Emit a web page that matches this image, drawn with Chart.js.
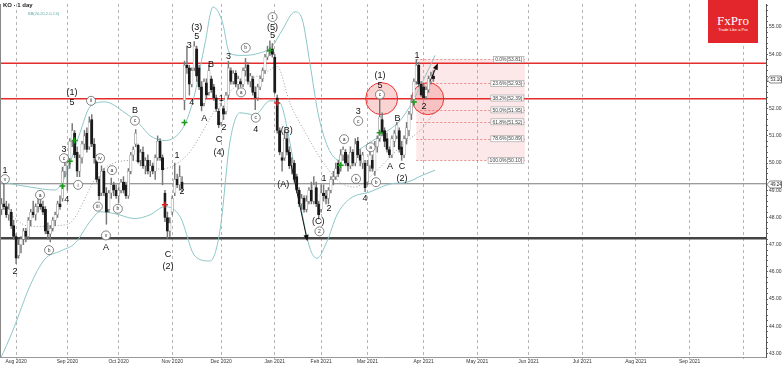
<!DOCTYPE html>
<html>
<head>
<meta charset="utf-8">
<title>KO 1 day</title>
<script src="https://cdn.jsdelivr.net/npm/chart.js@4.4.1/dist/chart.umd.min.js"></script>
<style>
  body { margin: 0; background: #fff; }
  #wrap { position: relative; width: 782px; height: 366px; overflow: hidden; }
  #title { position: absolute; left: 3px; top: 2px; font: bold 6px "Liberation Sans", Arial, sans-serif; color: #222; }
  #bb { position: absolute; left: 28px; top: 11px; font: 4px "Liberation Sans", Arial, sans-serif; color: #5aa7a7; }
  #logo { position: absolute; left: 708px; top: 0; width: 50px; height: 43px; background: #e3262b; color: #fff; text-align: center; }
  #logo .name { font: 13px "Liberation Serif", "DejaVu Serif", serif; margin-top: 14px; line-height: 13px; }
  #logo .tag { font: 4px "Liberation Sans", Arial, sans-serif; line-height: 5px; }
</style>
</head>
<body>
<div id="wrap">
  <canvas id="chart" width="782" height="366"></canvas>
  <div id="title">KO · 1 day</div>
  <div id="bb">BB(20,20,2.0,2.0)</div>
  <div id="logo"><div class="name">FxPro</div><div class="tag">Trade Like a Pro</div></div>
</div>
<script>
// daily candles, bar 0 = 24 Jul 2020 ... bar 177 = 8 Apr 2021
const open = [48.3,48.5,48.4,48.1,48.2,47.7,47.3,46.6,47.0,47.2,
  47.5,47.3,47.9,48.2,48.1,48.4,48.5,48.4,48.3,47.5,
  47.4,47.6,47.9,48.1,48.5,48.7,49.7,49.9,50.0,50.8,
  51.1,50.4,49.7,50.2,50.7,51.1,50.6,51.6,50.7,50.2,
  49.4,48.9,49.7,48.9,48.3,48.9,49.2,49.0,48.8,49.0,
  49.3,49.2,48.8,49.7,50.3,50.7,50.65,50.1,50.4,49.9,
  50.1,49.7,49.9,49.7,50.2,50.8,50.2,48.9,48.0,47.5,
  48.2,48.9,49.4,49.2,49.3,52.3,53.6,53.5,52.9,53.5,
  54.2,53.5,52.8,52.2,52.95,52.6,53.1,52.8,52.4,51.9,
  51.5,52.0,51.9,52.5,53.4,53.0,53.3,52.9,53.0,52.9,
  53.4,53.6,53.0,53.1,52.6,52.4,52.8,53.1,53.4,53.9,
  54.1,54.2,53.9,52.4,51.2,50.2,50.2,50.9,50.4,49.9,
  50.0,49.5,49.0,48.5,48.7,48.3,48.6,49.0,48.6,49.1,
  48.5,48.3,48.9,48.8,48.7,49.0,49.4,49.5,50.0,49.8,
  50.3,50.4,50.0,49.9,50.4,50.0,50.8,50.3,50.0,50.0,
  49.3,49.9,50.1,49.7,50.6,50.9,51.6,51.2,50.9,50.5,
  50.3,50.8,51.0,51.2,50.6,50.3,50.9,51.2,51.8,52.2,
  53.0,53.6,52.9,52.8,52.45,52.7,53.0,53.2];
const high = [48.7,49.3,48.6,48.5,48.3,47.9,47.4,47.2,47.3,47.6,
  47.6,48.0,48.3,48.6,48.5,48.8,48.9,48.6,48.4,47.8,
  47.7,48.0,48.2,48.6,48.8,49.85,50.15,50.1,50.9,51.45,
  51.2,50.6,50.3,50.8,51.2,51.3,51.7,51.78,50.9,50.3,
  49.5,49.9,49.8,49.1,49.0,49.45,49.3,49.2,49.1,49.4,
  49.5,49.3,49.8,50.4,50.6,51.23,50.7,50.5,50.6,50.2,
  50.3,50.1,50.0,50.3,51.0,50.9,50.3,49.0,48.2,48.0,
  48.8,50.0,49.6,49.9,49.5,53.75,54.3,53.6,53.5,54.47,
  54.3,53.6,53.0,53.1,53.1,53.6,53.2,52.9,52.5,52.0,
  52.2,52.1,52.6,53.75,53.5,53.4,53.4,53.2,53.1,53.5,
  53.85,53.7,53.3,53.2,52.8,52.9,53.2,53.5,54.0,54.3,
  54.5,54.4,54.0,52.5,51.3,50.4,51.2,51.1,50.6,50.2,
  50.1,49.6,49.1,48.85,48.8,48.8,49.1,49.3,49.5,49.3,
  48.6,49.2,49.2,49.0,49.1,49.5,49.7,50.0,50.1,50.5,
  50.6,50.5,50.3,50.6,50.5,50.9,50.95,50.5,50.4,50.1,
  50.1,50.6,50.3,50.8,51.0,52.47,51.85,51.3,51.1,50.6,
  51.0,51.2,51.5,51.3,50.8,51.0,51.5,51.9,52.5,53.1,
  53.81,53.7,53.0,52.9,52.8,53.2,53.35,53.4];
const low = [48.1,48.3,48.0,47.9,47.6,47.2,46.3,46.5,46.7,47.0,
  47.1,47.2,47.7,48.0,47.9,48.2,48.3,48.1,47.4,47.2,
  47.1,47.5,47.7,48.0,48.3,48.6,49.5,49.0,49.8,50.6,
  50.2,49.5,49.5,50.0,50.5,50.4,50.5,50.6,50.0,49.3,
  48.65,48.8,48.8,47.75,48.2,48.7,48.8,48.7,48.55,48.9,
  48.9,48.7,48.7,49.6,50.1,50.6,50.0,49.9,49.8,49.6,
  49.6,49.5,49.6,49.4,50.1,50.1,49.2,47.85,47.23,47.3,
  48.1,48.8,49.1,49.0,48.95,51.96,53.3,52.5,52.8,53.4,
  53.0,52.7,51.92,52.1,52.4,52.5,52.6,52.3,51.9,51.3,
  51.4,51.6,51.8,52.4,52.9,52.9,52.8,52.6,52.8,52.8,
  53.2,52.9,52.8,52.5,51.96,52.3,52.7,53.0,53.3,53.8,
  53.95,53.9,52.55,51.1,50.3,49.7,50.1,50.3,49.8,49.6,
  49.3,48.9,48.4,48.3,48.2,48.2,48.5,48.5,48.5,48.4,
  47.95,48.2,48.6,48.5,48.5,48.9,49.2,49.4,49.5,49.7,
  50.1,49.9,49.7,49.8,49.9,49.9,50.2,49.9,49.8,48.95,
  49.2,49.7,49.7,49.55,50.4,50.8,51.0,50.6,50.4,50.2,
  50.2,50.6,50.9,50.4,50.10,50.2,50.7,51.0,51.6,52.1,
  52.9,52.8,52.45,52.37,52.35,52.6,52.9,53.0];
const close = [48.5,48.4,48.1,48.3,47.7,47.3,46.5,47.0,47.2,47.5,
  47.3,47.9,48.2,48.1,48.4,48.5,48.4,48.2,47.5,47.4,
  47.6,47.9,48.1,48.5,48.4,49.7,49.9,50.0,50.8,51.2,
  50.3,49.7,50.2,50.7,51.0,50.5,51.5,50.7,50.2,49.4,
  48.8,49.7,48.9,48.2,48.9,49.2,49.0,48.8,49.0,49.3,
  49.0,48.8,49.7,50.3,50.5,51.1,50.05,50.4,49.9,50.1,
  49.7,49.9,49.7,50.2,50.8,50.2,49.75,48.0,47.5,47.8,
  48.7,49.4,49.2,49.5,49.1,53.6,53.5,52.9,53.4,54.3,
  53.2,52.8,52.1,53.0,52.5,53.4,52.7,52.4,52.0,51.4,
  52.1,51.8,52.5,53.5,53.0,53.3,52.9,53.1,52.9,53.4,
  53.5,53.0,53.2,52.6,52.4,52.8,53.1,53.4,53.9,54.1,
  54.2,54.0,52.6,51.2,50.4,50.1,50.9,50.4,49.9,50.0,
  49.4,49.0,48.5,48.7,48.3,48.6,49.0,48.6,49.2,48.5,
  48.1,48.9,48.8,48.7,49.0,49.4,49.5,49.8,49.6,50.3,
  50.5,50.0,49.9,50.4,50.0,50.7,50.3,50.1,50.3,49.1,
  49.9,50.3,49.8,50.6,50.9,51.7,51.1,50.8,50.5,50.3,
  50.9,51.1,51.4,50.5,50.3,50.9,51.3,51.8,52.3,53.0,
  53.6,52.9,52.5,52.4,52.7,53.1,53.2,53.1];

// month separators (bar index) and their labels
const monthIdx = [6, 27, 48, 70, 90, 112, 131, 150, 173, 195, 216, 238, 260, 282, 304];
const monthLbl = ["Aug 2020", "Sep 2020", "Oct 2020", "Nov 2020", "Dec 2020", "Jan 2021", "Feb 2021",
  "Mar 2021", "Apr 2021", "May 2021", "Jun 2021", "Jul 2021", "Aug 2021", "Sep 2021", ""];

// Bollinger bands
const upperIdx = [0, 11.7, 21.9, 26, 32.2, 36.3, 42.4, 50.6, 56.8, 60.9, 67, 72.3, 76, 79.3, 83.4, 86.7, 90.4,
  93.6, 98.6, 105.1, 110.9, 114.9, 120.3, 123.2, 126.4, 129.7, 133.8, 138.7, 144.9, 151, 157.2, 163.3, 168.2, 172.7, 177.7];
const upperVal = [49.3, 49.12, 49.01, 49.49, 51.12, 52.07, 52.25, 51.85, 51.41, 51.01, 50.83, 51.05, 51.6, 52.58, 54.4, 55.74, 55.23,
  54.03, 53.96, 54.03, 54.29, 54.87, 55.56, 55.3, 53.67, 51.85, 50.58, 50.1, 50.4, 50.76, 51.12, 51.56, 52.21, 53.01, 53.96];
const midIdx = [0, 11.7, 26.8, 40.4, 53.9, 65, 76, 89.5, 97.7, 108, 112.9, 118.2, 125.2, 131.8, 138.7, 144.9, 151, 157.2, 164.5, 172.7, 177.7];
const midVal = [48.4, 47.67, 47.74, 49.67, 50.1, 49.78, 50.29, 52.21, 52.94, 53.3, 53.56, 52.21, 51.01, 50.03, 49.3, 49.12, 49.49, 50.03, 50.69, 51.3, 51.92];
const lowerIdx = [-0.6, 4.7, 11.7, 17.8, 24, 30.1, 36.3, 40.4, 46.5, 54.7, 60.9, 67, 73.2, 79.3, 85.5, 89.5, 93.6, 97.7, 103.9,
  110, 114.1, 118.2, 122.3, 126.4, 129.3, 133.4, 137.5, 142.8, 151, 159.2, 166.2, 172.7, 177.7];
const lowerVal = [42.76, 43.85, 45.49, 46.47, 46.76, 47.05, 47.85, 48.21, 48.14, 47.96, 48.1, 48.4, 48.03, 46.58, 46.4, 47.49, 50.76, 51.85, 51.78,
  52.29, 52.21, 50.76, 48.58, 46.87, 46.5, 47.12, 48.1, 48.69, 48.94, 49.23, 49.3, 49.56, 49.74];

// horizontal levels
const resistHigh = 53.67, resistLow = 52.37, pivotLevel = 49.24, supportLevel = 47.24;

// Fibonacci retracement of the last swing
const fibHigh = 53.81, fibLow = 50.10, fibStart = 170, fibEnd = 214.5;
const fibLevels = [0, 23.6, 38.2, 50, 61.8, 78.6, 100];

// highlighted zones (bar index, price)
const zoneIdx = [155.8, 174.7];
const zoneVal = [52.37, 52.37];

// signal marks
const buyIdx = [25, 28, 30, 75, 110, 139, 155, 169];
const buyVal = [49.16, 50.07, 50.83, 51.49, 54.14, 49.92, 51.12, 52.25];
const sellIdx = [67, 113];
const sellVal = [48.47, 52.21];

// projection arrows: [fromIdx, fromPrice, toIdx, toPrice]
const arrows = [[117.4, 50.5, 125.2, 47.2], [175.6, 53.01, 178.5, 53.6]];

// Elliott wave labels: [text, bar index, price, circled]
const waveLabels = [
  ["1", 1.4, 49.74, 0], ["v", 1.4, 49.41, 1], ["2", 5.5, 46.0, 0], ["a", 15.8, 48.83, 1], ["b", 19.5, 46.8, 1],
  ["3", 25.6, 50.5, 0], ["c", 25.6, 50.18, 1], ["4", 26.8, 48.65, 0], ["(1)", 28.9, 52.58, 0], ["5", 28.9, 52.21, 0],
  ["i", 31.4, 49.2, 1], ["ii", 36.7, 52.29, 1], ["iii", 39.5, 48.4, 1], ["iv", 40.4, 50.18, 1], ["v", 42.8, 47.34, 1],
  ["A", 42.8, 46.9, 0], ["a", 45.3, 49.74, 1], ["b", 47.7, 48.32, 1], ["B", 54.7, 51.92, 0], ["c", 54.7, 51.56, 1],
  ["1", 71.9, 50.29, 0], ["2", 74.0, 48.94, 0], ["C", 68.2, 46.65, 0], ["(2)", 68.2, 46.21, 0],
  ["3", 77.0, 54.33, 0], ["(3)", 80.0, 54.98, 0], ["5", 80.0, 54.64, 0], ["4", 78.0, 52.24, 0], ["A", 83.1, 51.63, 0],
  ["B", 85.9, 53.61, 0], ["C", 89.1, 50.88, 0], ["(4)", 89.1, 50.4, 0], ["1", 90.1, 52.37, 0], ["2", 91.2, 51.3, 0],
  ["3", 93.0, 53.91, 0], ["a", 98.2, 52.6, 1], ["b", 100.1, 54.24, 1], ["c", 104.2, 51.67, 1], ["4", 104.2, 51.24, 0],
  ["5", 111.1, 54.7, 0], ["(5)", 111.1, 55.0, 0], ["1", 111.1, 55.37, 1],
  ["(B)", 116.9, 51.18, 0], ["(A)", 115.5, 49.21, 0], ["(C)", 129.8, 47.85, 0], ["2", 130.3, 47.49, 1],
  ["1", 132.2, 49.42, 0], ["2", 134.2, 48.33, 0], ["a", 140.4, 50.88, 1], ["3", 146.2, 51.91, 0], ["c", 146.2, 51.55, 1],
  ["b", 145.3, 49.42, 1], ["4", 149.0, 48.7, 0], ["a", 151.3, 50.58, 1], ["b", 153.5, 49.3, 1],
  ["(1)", 155.1, 53.21, 0], ["5", 155.1, 52.85, 0], ["c", 155.1, 52.52, 1],
  ["A", 159.2, 49.89, 0], ["B", 162.3, 51.63, 0], ["C", 164.1, 49.89, 0], ["(2)", 164.1, 49.45, 0],
  ["1", 170.3, 53.97, 0], ["2", 173.2, 52.09, 0]
];

const X_MIN = -0.6, X_MAX = 313.3;
const bars = close.map((c, i) => i);
const up = bars.map(i => close[i] >= open[i]);

function hline(v, color, width) {
  return { type: "line", data: [{ x: X_MIN, y: v }, { x: X_MAX, y: v }], borderColor: color,
    borderWidth: width, pointRadius: 0, order: 5 };
}
function band(idx, val, color, dash) {
  return { type: "line", data: idx.map((x, k) => ({ x: x, y: val[k] })), borderColor: color, borderWidth: 1,
    borderDash: dash, pointRadius: 0, cubicInterpolationMode: "monotone", order: 4 };
}

const overlay = {
  id: "overlay",
  beforeDatasetsDraw(chart) {
    const { ctx, chartArea: a, scales: { x, y } } = chart;
    ctx.save();
    ctx.beginPath();
    ctx.rect(a.left, a.top, a.right - a.left, a.bottom - a.top);
    ctx.clip();
    // fibonacci box
    const x1 = x.getPixelForValue(fibStart), x2 = x.getPixelForValue(fibEnd);
    const yTop = y.getPixelForValue(fibHigh), yBot = y.getPixelForValue(fibLow);
    ctx.fillStyle = "rgba(240,140,140,0.2)";
    ctx.fillRect(x1, yTop, x2 - x1, yBot - yTop);
    ctx.strokeStyle = "rgba(225,70,70,0.75)";
    ctx.lineWidth = 0.8;
    ctx.setLineDash([2, 2]);
    fibLevels.forEach(p => {
      const yy = Math.round(y.getPixelForValue(fibHigh - (fibHigh - fibLow) * p / 100)) + 0.5;
      ctx.beginPath(); ctx.moveTo(x1, yy); ctx.lineTo(x2, yy); ctx.stroke();
    });
    ctx.setLineDash([]);
    // highlighted zones
    zoneIdx.forEach((zi, k) => {
      ctx.beginPath();
      ctx.arc(x.getPixelForValue(zi), y.getPixelForValue(zoneVal[k]), 16, 0, Math.PI * 2);
      ctx.fillStyle = "rgba(235,80,80,0.25)";
      ctx.fill();
      ctx.strokeStyle = "#e33";
      ctx.lineWidth = 1;
      ctx.stroke();
    });
    ctx.restore();
  },
  afterDatasetsDraw(chart) {
    const { ctx, scales: { x, y } } = chart;
    ctx.save();
    // arrows
    ctx.strokeStyle = "#111"; ctx.fillStyle = "#111"; ctx.lineWidth = 1;
    arrows.forEach(([i1, p1, i2, p2]) => {
      const ax = x.getPixelForValue(i1), ay = y.getPixelForValue(p1);
      const bx = x.getPixelForValue(i2), by = y.getPixelForValue(p2);
      const ang = Math.atan2(by - ay, bx - ax);
      ctx.beginPath(); ctx.moveTo(ax, ay); ctx.lineTo(bx, by); ctx.stroke();
      ctx.beginPath();
      ctx.moveTo(bx + Math.cos(ang) * 2, by + Math.sin(ang) * 2);
      ctx.lineTo(bx + Math.cos(ang + 2.6) * 5, by + Math.sin(ang + 2.6) * 5);
      ctx.lineTo(bx + Math.cos(ang - 2.6) * 5, by + Math.sin(ang - 2.6) * 5);
      ctx.closePath(); ctx.fill();
    });
    // wave labels
    ctx.textAlign = "center";
    ctx.textBaseline = "middle";
    waveLabels.forEach(([t, i, p, circ]) => {
      const px = x.getPixelForValue(i), py = y.getPixelForValue(p);
      if (circ) {
        ctx.beginPath(); ctx.arc(px, py, 4.5, 0, Math.PI * 2);
        ctx.fillStyle = "#fff"; ctx.fill();
        ctx.strokeStyle = "#666"; ctx.lineWidth = 0.8; ctx.stroke();
        ctx.fillStyle = "#333"; ctx.font = "5px 'Liberation Sans', Arial, sans-serif";
        ctx.fillText(t, px, py + 0.3);
      } else {
        ctx.fillStyle = "#111"; ctx.font = "9px 'Liberation Sans', Arial, sans-serif";
        ctx.fillText(t, px, py);
      }
    });
    // fibonacci labels
    const fx2 = x.getPixelForValue(fibEnd);
    ctx.font = "5px 'Liberation Sans', Arial, sans-serif";
    ctx.textAlign = "right";
    fibLevels.forEach(p => {
      const v = fibHigh - (fibHigh - fibLow) * p / 100;
      const yy = y.getPixelForValue(v);
      const txt = p.toFixed(1) + "%(" + v.toFixed(2) + ")";
      const w = ctx.measureText(txt).width + 3;
      ctx.fillStyle = "#fff"; ctx.fillRect(fx2 - w - 1, yy - 3, w, 6);
      ctx.strokeStyle = "#999"; ctx.lineWidth = 0.6; ctx.strokeRect(fx2 - w - 1, yy - 3, w, 6);
      ctx.fillStyle = "#444"; ctx.fillText(txt, fx2 - 2.5, yy + 0.3);
    });
    ctx.restore();
  },
  afterDraw(chart) {
    const { ctx, chartArea: a, scales: { y } } = chart;
    ctx.save();
    ctx.strokeStyle = "#888"; ctx.lineWidth = 1;
    ctx.beginPath(); ctx.moveTo(a.left + 0.5, a.top); ctx.lineTo(a.left + 0.5, a.bottom); ctx.stroke();
    // price tags on the axis
    ctx.font = "4.5px 'Liberation Sans', Arial, sans-serif";
    ctx.textAlign = "left"; ctx.textBaseline = "middle";
    [close[close.length - 1], pivotLevel].forEach(v => {
      const yy = Math.round(y.getPixelForValue(v)) + 0.5;
      const l = a.right + 1;
      ctx.beginPath();
      ctx.moveTo(l, yy); ctx.lineTo(l + 3, yy - 3.5); ctx.lineTo(781.5, yy - 3.5);
      ctx.lineTo(781.5, yy + 3.5); ctx.lineTo(l + 3, yy + 3.5); ctx.closePath();
      ctx.fillStyle = "#fff"; ctx.fill();
      ctx.strokeStyle = "#555"; ctx.lineWidth = 0.7; ctx.stroke();
      ctx.fillStyle = "#222"; ctx.fillText(v.toFixed(2), l + 3.5, yy + 0.3);
    });
    ctx.restore();
  }
};

new Chart(document.getElementById("chart"), {
  type: "bar",
  data: {
    datasets: [
      { type: "scatter", data: buyIdx.map((x, k) => ({ x: x, y: buyVal[k] })), pointStyle: "cross",
        pointRadius: 3, borderColor: "#1a9a1a", borderWidth: 1.5, order: 0 },
      { type: "scatter", data: sellIdx.map((x, k) => ({ x: x, y: sellVal[k] })), pointStyle: "cross",
        pointRadius: 3, borderColor: "#d42020", borderWidth: 1.5, order: 0 },
      { data: bars.map(i => ({ x: i, y: [Math.min(open[i], close[i]), Math.max(open[i], close[i])] })),
        backgroundColor: bars.map(i => up[i] ? "#ffffff" : "#1a1a1a"),
        borderColor: bars.map(i => up[i] ? "#8a8a8a" : "#1a1a1a"),
        borderWidth: 0.6, borderSkipped: false, barThickness: 2.4, grouped: false, order: 1 },
      { data: bars.map(i => ({ x: i, y: [low[i], high[i]] })), backgroundColor: "#777",
        barThickness: 0.8, grouped: false, order: 2 },
      band(upperIdx, upperVal, "#8cc6c8", []),
      band(midIdx, midVal, "#9a9a9a", [1, 2]),
      band(lowerIdx, lowerVal, "#8cc6c8", []),
      hline(resistHigh, "#e52b2b", 1.5),
      hline(resistLow, "#e52b2b", 1.5),
      hline(pivotLevel, "#7a7a7a", 1),
      hline(supportLevel, "#444", 2.5)
    ]
  },
  options: {
    responsive: false,
    animation: false,
    devicePixelRatio: 1,
    layout: { padding: 0, autoPadding: false },
    plugins: { legend: { display: false }, tooltip: { enabled: false } },
    scales: {
      x: {
        type: "linear", min: X_MIN, max: X_MAX, offset: false,
        afterBuildTicks: s => { s.ticks = monthIdx.map(v => ({ value: v })); },
        afterFit: s => { s.height = 9; },
        ticks: { autoSkip: false, maxRotation: 0, padding: 0, color: "#333",
          font: { size: 5, family: "'Liberation Sans', Arial, sans-serif" },
          callback: v => monthLbl[monthIdx.indexOf(v)] },
        grid: { color: "#b5b5b5", lineWidth: 1, offset: false, tickLength: 2 },
        border: { display: true, color: "#999", dash: [3, 3] }
      },
      y: {
        position: "right", min: 42.87, max: 55.85,
        afterFit: s => { s.width = 16; },
        ticks: { stepSize: 0.2, includeBounds: false, autoSkip: false, padding: 1, color: "#333",
          font: { size: 5, family: "'Liberation Sans', Arial, sans-serif" },
          callback: v => Math.abs(v - Math.round(v)) < 1e-6 ? v.toFixed(2) : "" },
        grid: { drawOnChartArea: false, tickLength: 2, color: "#666" },
        border: { display: true, color: "#555" }
      }
    }
  },
  plugins: [overlay]
});
</script>
</body>
</html>
